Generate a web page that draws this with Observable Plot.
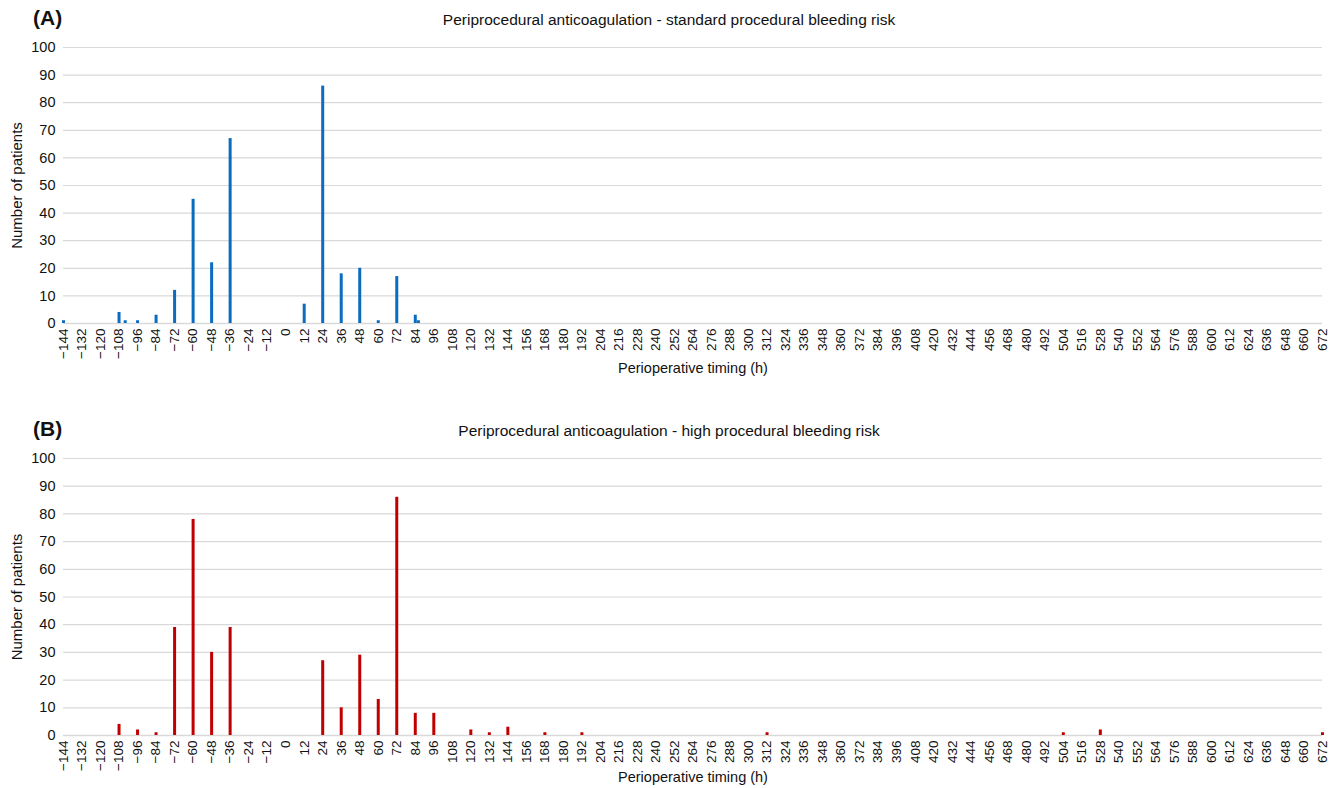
<!DOCTYPE html>
<html>
<head>
<meta charset="utf-8">
<script src="https://cdn.jsdelivr.net/npm/d3@7"></script>
<script src="https://cdn.jsdelivr.net/npm/@observablehq/plot@0.6"></script>
<style>
  body { margin: 0; background: #fff; font-family: "Liberation Sans", Arial, sans-serif; }
  .panel { position: relative; width: 1338px; }
  .hdr { position: relative; width: 1338px; }
  .tag { position: absolute; left: 33px; font-weight: bold; font-size: 21px; color: #111; line-height: 1; }
  .ttl { position: absolute; left: 0; width: 1338px; text-align: center; font-size: 15.5px; color: #111; line-height: 1; }
  svg { display: block; }
</style>
</head>
<body>
<div id="A" class="panel">
  <div class="hdr" style="height:37px;">
    <div class="tag" style="top:7px;">(A)</div>
    <div class="ttl" style="top:12px;">Periprocedural anticoagulation - standard procedural bleeding risk</div>
  </div>
  <div id="chartA"></div>
</div>
<div id="B" class="panel">
  <div class="hdr" style="height:61px;">
    <div class="tag" style="top:31px;">(B)</div>
    <div class="ttl" style="top:36px;">Periprocedural anticoagulation - high procedural bleeding risk</div>
  </div>
  <div id="chartB"></div>
</div>
<script>
// Panel A: standard procedural bleeding risk
const hoursA  = [-144, -108, -104, -96, -84, -72, -60, -48, -36, 12, 24, 36, 48, 60, 72, 84, 86];
const countsA = [   1,    4,    1,   1,   3,  12,  45,  22,  67,  7, 86, 18, 20,  1, 17,  3,  1];

// Panel B: high procedural bleeding risk
const hoursB  = [-108, -96, -84, -72, -60, -48, -36, 24, 36, 48, 60, 72, 84, 96, 120, 132, 144, 168, 192, 312, 504, 528, 672];
const countsB = [   4,   2,   1,  39,  78,  30,  39, 27, 10, 29, 13, 86,  8,  8,   2,   1,   3,   1,   1,   1,   1,   2,   1];

const xTicks = d3.range(-144, 673, 12);
const yTicks = [0, 10, 20, 30, 40, 50, 60, 70, 80, 90, 100];
const xTitle = "Perioperative timing (h)";
const yTitle = "Number of patients";

const fmt = d => (d < 0 ? "\u2212" + Math.abs(d) : String(d));

function chart(hours, counts, color, height, marginBottom, xTitleDy) {
  const data = hours.map((h, i) => ({hour: h, n: counts[i]}));
  return Plot.plot({
    width: 1338,
    height,
    marginTop: 10,
    marginLeft: 63,
    marginRight: 16,
    marginBottom,
    style: {fontFamily: "'Liberation Sans', Arial, sans-serif", fontSize: "14px", color: "#111"},
    x: {domain: [-144, 672]},
    y: {domain: [0, 100]},
    marks: [
      Plot.gridY(yTicks, {stroke: "#d9d9d9", strokeOpacity: 1, strokeWidth: 1.2}),
      Plot.ruleY([0], {stroke: "#d9d9d9", strokeWidth: 1.5}),
      Plot.axisY({ticks: yTicks, tickSize: 0, tickPadding: 8, fontSize: 14.5, label: null}),
      Plot.axisX({ticks: xTicks, tickSize: 0, tickPadding: 5, tickRotate: -90, tickFormat: fmt, fontSize: 13.5, label: null}),
      Plot.text([xTitle], {text: d => d, frameAnchor: "bottom", dy: xTitleDy, fontSize: 14.5, fill: "#111"}),
      Plot.text([yTitle], {text: d => d, frameAnchor: "left", textAnchor: "middle", dx: -46, rotate: -90, fontSize: 15, fill: "#111"}),
      Plot.ruleX(data, {x: "hour", y1: 0, y2: "n", stroke: color, strokeWidth: 3})
    ]
  });
}

document.getElementById("chartA").append(chart(hoursA, countsA, "#0b6cbf", 350, 64, 49));
document.getElementById("chartB").append(chart(hoursB, countsB, "#c00000", 340, 53, 46));
</script>
</body>
</html>
